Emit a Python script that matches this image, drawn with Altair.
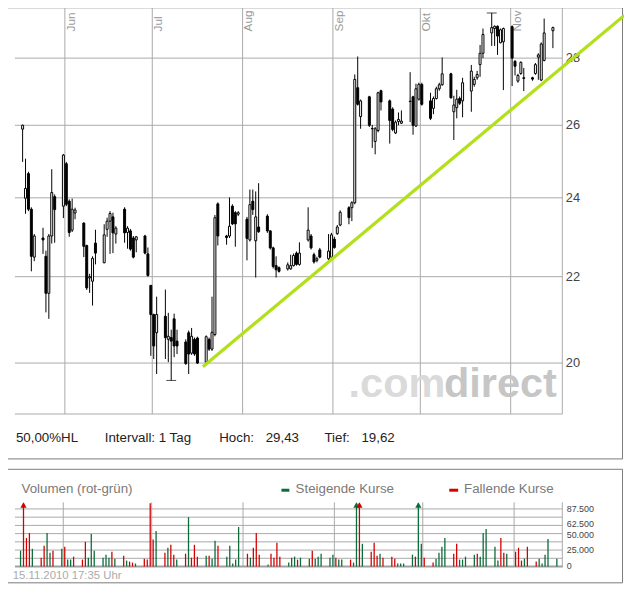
import altair as alt
import pandas as pd

# ---------------- data ----------------
trade_days = pd.bdate_range("2010-05-17", "2010-11-15")  # 131 sessions

opens = [25.89, 23.99, 24.65, 23.70, 22.48,
         22.96, 22.50, 21.60, 23.01, 24.03,
         23.78, 24.92, 23.91, 23.16, 23.60,
         23.34, 22.77, 21.97, 21.89, 22.83,
         22.34, 23.18, 23.39, 23.50, 23.06,
         23.70, 23.10, 23.14, 22.96, 22.91,
         23.01, 22.56, 21.79, 21.10, 20.68,
         21.06, 20.53, 20.57, 21.00, 20.49,
         20.47, 20.68, 20.22, 20.53, 20.56,
         20.02, 20.53, 20.31, 20.64, 23.84,
         23.01, 23.01, 23.78, 23.61, 23.57,
         23.44, 22.91, 23.91, 22.89, 23.24,
         23.52, 23.14, 22.71, 22.27, 22.22,
         22.19, 22.19, 22.27, 22.58, 22.30,
         22.91, 23.01, 22.54, 22.40, 22.66,
         22.44, 22.48, 22.93, 23.07, 23.29,
         23.74, 23.74, 23.87, 27.10, 26.25,
         26.83, 25.91, 25.54, 25.85, 27.01,
         26.71, 26.47, 25.78, 26.11, 26.06,
         26.69, 26.83, 25.98, 26.76, 27.20,
         26.71, 26.49, 26.78, 27.07, 27.19,
         27.52, 26.39, 26.51, 26.78, 26.71,
         27.00, 27.20, 27.40, 27.80, 28.15,
         28.79, 28.93, 29.00, 28.48, 28.51,
         28.99, 27.90, 27.30, 27.53, 27.40,
         27.40, 27.53, 28.03, 27.33, 27.93,
         28.86]

highs = [26.02, 25.06, 24.70, 23.75, 23.06,
         23.22, 22.64, 23.06, 24.77, 24.09,
         25.19, 24.97, 23.96, 23.98, 23.74,
         23.36, 22.79, 22.07, 22.50, 23.17,
         23.31, 23.48, 23.65, 23.61, 23.26,
         23.75, 23.26, 23.19, 23.01, 23.01,
         23.04, 22.72, 21.79, 21.12, 21.52,
         21.69, 21.14, 20.75, 21.12, 20.75,
         20.53, 20.73, 20.79, 20.57, 20.59,
         20.62, 20.57, 21.52, 23.55, 23.88,
         23.04, 24.01, 23.83, 23.65, 23.65,
         23.50, 24.22, 24.22, 24.17, 24.39,
         23.57, 23.16, 22.74, 22.50, 22.25,
         22.35, 22.54, 22.57, 22.62, 22.85,
         23.75, 23.06, 22.59, 22.49, 22.71,
         23.06, 23.09, 22.99, 23.29, 23.67,
         23.78, 23.91, 27.50, 28.05, 26.75,
         26.86, 26.01, 25.95, 26.98, 27.04,
         26.75, 26.52, 26.14, 26.37, 26.43,
         27.57, 26.86, 27.22, 27.25, 27.25,
         26.95, 26.84, 27.13, 27.25, 28.02,
         27.55, 26.86, 27.04, 26.84, 27.40,
         27.79, 27.43, 27.61, 28.41, 28.93,
         29.43, 29.03, 29.03, 28.93, 28.96,
         29.03, 27.94, 27.52, 27.90, 27.70,
         27.43, 27.85, 28.15, 28.49, 29.25,
         28.99]

lows = [24.97, 23.58, 23.65, 22.13, 22.38,
        22.56, 21.15, 21.00, 22.82, 22.84,
        23.47, 23.78, 22.99, 23.11, 23.44,
        22.48, 21.68, 21.61, 21.31, 22.30,
        22.33, 22.99, 22.56, 22.58, 22.82,
        22.84, 22.69, 22.64, 22.45, 22.60,
        22.55, 22.00, 20.16, 20.09, 19.76,
        20.09, 20.02, 19.62, 20.13, 20.20,
        19.96, 19.76, 20.18, 20.16, 19.98,
        20.00, 20.27, 20.27, 20.60, 22.77,
        22.79, 22.96, 23.29, 22.74, 23.52,
        22.40, 22.87, 23.55, 21.98, 23.09,
        23.09, 22.67, 22.20, 21.98, 22.10,
        22.15, 22.17, 22.25, 22.27, 22.27,
        22.87, 22.67, 22.32, 22.35, 22.45,
        22.40, 22.45, 22.69, 23.04, 23.26,
        23.31, 23.39, 23.83, 26.57, 25.90,
        25.95, 25.36, 25.18, 25.80, 26.43,
        25.48, 25.83, 25.75, 26.00, 26.04,
        26.09, 25.73, 25.95, 26.72, 26.57,
        26.15, 26.32, 26.75, 27.01, 27.16,
        26.78, 25.58, 26.20, 26.59, 26.23,
        26.39, 27.13, 27.34, 27.43, 28.00,
        28.38, 28.38, 28.10, 28.46, 27.03,
        27.15, 27.47, 27.25, 27.49, 27.00,
        27.31, 27.49, 27.34, 27.30, 27.90,
        28.31]

closes = [26.00, 24.25, 23.70, 22.50, 23.01,
          22.91, 21.60, 23.01, 24.14, 23.69,
          25.16, 23.83, 23.10, 23.70, 23.68,
          22.75, 21.73, 22.00, 22.45, 22.58,
          23.04, 23.39, 23.59, 23.09, 23.21,
          23.09, 23.21, 22.68, 22.48, 22.99,
          22.58, 22.03, 21.10, 20.38, 21.10,
          20.57, 20.60, 20.49, 20.38, 20.38,
          19.99, 20.20, 20.60, 20.20, 20.00,
          20.59, 20.31, 20.69, 23.48, 23.01,
          22.97, 23.26, 23.32, 23.32, 23.61,
          22.95, 23.82, 23.69, 23.50, 23.12,
          23.14, 22.71, 22.25, 22.17, 22.13,
          22.29, 22.27, 22.52, 22.30, 22.58,
          23.16, 22.71, 22.36, 22.44, 22.48,
          22.63, 23.04, 22.72, 23.24, 23.62,
          23.48, 23.87, 27.35, 26.61, 26.71,
          26.00, 25.90, 25.90, 26.95, 26.68,
          26.14, 25.88, 26.09, 26.17, 26.12,
          26.70, 26.00, 27.07, 27.20, 26.61,
          26.20, 26.78, 27.07, 27.19, 27.52,
          26.80, 26.59, 26.76, 26.64, 27.25,
          27.60, 27.35, 27.50, 28.15, 28.74,
          28.96, 29.00, 28.69, 28.89, 28.93,
          28.00, 27.75, 27.47, 27.87, 27.38,
          27.36, 27.80, 28.10, 28.44, 28.79,
          28.96]

volumes = [24000, 130000, 43500, 51000, 27000,
           13500, 31500, 51000, 21000, 24000,
           27000, 30000, 10500, 10500, 15000,
           10500, 37500, 13500, 49500, 24000,
           13500, 18000, 13500, 22500, 12000,
           16500, 9000, 7500, 6000, 4500,
           12000, 10500, 96000, 41000, 54000,
           21000, 28500, 33000, 18000, 10500,
           19500, 75000, 13500, 33000, 15000,
           16500, 16500, 12000, 39000, 31500,
           15000, 31500, 4500, 10500, 60000,
           19500, 13500, 28500, 51000, 18000,
           3000, 19500, 13500, 36000, 15000,
           6000, 13500, 15000, 10500, 13500,
           12000, 24000, 12000, 15000, 19500,
           13500, 18000, 13500, 10500, 10500,
           10500, 6000, 210000, 150000, 34500,
           22500, 36000, 16500, 19500, 13500,
           15000, 12000, 4500, 4500, 4500,
           18000, 15000, 115000, 34500, 13500,
           6000, 12000, 21000, 30000, 43500,
           19500, 34500, 10500, 10500, 15000,
           18000, 19500, 15000, 51000, 57000,
           30000, 9000, 43500, 21000, 19500,
           22500, 28500, 9000, 12000, 30000,
           7500, 12000, 4500, 18000, 42000,
           12000]

# S = steigende Kurse (green), F = fallende Kurse (red)
vol_dir = ["S", "F", "F", "F", "S",
           "F", "F", "S", "S", "F",
           "S", "F", "S", "S", "F",
           "F", "F", "S", "S", "S",
           "S", "S", "S", "F", "S",
           "F", "S", "F", "F", "S",
           "F", "F", "F", "F", "S",
           "F", "S", "F", "F", "S",
           "F", "S", "F", "F", "F",
           "S", "F", "S", "S", "F",
           "S", "S", "S", "S", "S",
           "F", "S", "F", "F", "F",
           "S", "F", "F", "F", "F",
           "S", "S", "S", "F", "S",
           "S", "F", "S", "S", "S",
           "S", "S", "F", "S", "S",
           "F", "S", "S", "F", "S",
           "F", "F", "F", "S", "F",
           "F", "F", "S", "S", "S",
           "S", "F", "S", "S", "F",
           "F", "S", "S", "S", "S",
           "F", "F", "S", "S", "S",
           "S", "F", "S", "S", "S",
           "S", "S", "F", "F", "S",
           "F", "F", "F", "S", "F",
           "F", "S", "S", "S", "S",
           "S"]

month_starts = ["2010-06-01T00:00:00Z", "2010-07-01T00:00:00Z", "2010-08-01T00:00:00Z",
                "2010-09-01T00:00:00Z", "2010-10-01T00:00:00Z", "2010-11-01T00:00:00Z"]
month_names = ["Jun", "Jul", "Aug", "Sep", "Okt", "Nov"]

price_ticks = [20, 22, 24, 26, 28]
price_tick_labels = ["20", "22", "24", "26", "28"]

vol_grid = [12500, 25000, 37500, 50000, 62500, 75000, 87500]
vol_ticks = [87500, 62500, 50000, 25000, 0]
vol_tick_labels = ["87.500", "62.500", "50.000", "25.000", "0"]
vol_tick_nudge = [0, -1.8, 1.6, 0, 0]   # the reference spreads the two crowded labels

extreme_dates = ["2010-10-25T12:00:00Z", "2010-07-07T12:00:00Z"]
extreme_values = [29.43, 19.62]

trend_dates = ["2010-07-18T09:00:00Z", "2010-12-10T00:00:00Z"]
trend_values = [19.92, 29.35]

# ---------------- build ----------------
W, H = 624, 582
FONT = "Liberation Sans"
GRID = "#a9a9a9"
BOX = "#7a7a7a"
GREEN = "#0b6b3a"
RED = "#d40000"

df = pd.DataFrame({
    "date": [d.strftime("%Y-%m-%dT12:00:00Z") for d in trade_days],
    "open": opens, "high": highs, "low": lows, "close": closes,
    "vol": volumes, "dir": vol_dir,
})
month_df = pd.DataFrame({"m": month_starts, "name": month_names})
ptick_df = pd.DataFrame({"p": price_ticks, "lab": price_tick_labels})
vgrid_df = pd.DataFrame({"v": vol_grid})
ext_df = pd.DataFrame({"date": extreme_dates, "price": extreme_values})
trend_df = pd.DataFrame({"date": trend_dates, "price": trend_values})
one = pd.DataFrame({"k": [0]})


def utc(y, m, d, h=0, mi=0):
    return alt.DateTime(year=y, month=m, date=d, hours=h, minutes=mi, utc=True)


X_PRICE = alt.Scale(type="utc", domain=[utc(2010, 5, 12, 11, 38), utc(2010, 12, 9, 21, 36)],
                    nice=False, padding=0)
Y_PRICE = alt.Scale(type="log", domain=[15.6336, 29.4709], nice=False, padding=0)
X_VOL = alt.Scale(type="utc", domain=[utc(2010, 5, 13, 5, 46), utc(2010, 12, 8, 6, 58)],
                  nice=False, padding=0)
Y_VOL = alt.Scale(type="linear", domain=[-30000, 843000], nice=False, zero=False, padding=0)


def xp(f):
    return alt.X(f, type="temporal", scale=X_PRICE, axis=None)


def yp(f):
    return alt.Y(f, type="quantitative", scale=Y_PRICE, axis=None)


def xv(f):
    return alt.X(f, type="temporal", scale=X_VOL, axis=None)


def yv(f):
    return alt.Y(f, type="quantitative", scale=Y_VOL, axis=None)


def label(text, x, y, size, color, align="left", baseline="alphabetic", weight="normal"):
    return alt.Chart(one).mark_text(
        text=text, align=align, baseline=baseline, fontSize=size, color=color,
        font=FONT, fontWeight=weight
    ).encode(x=alt.value(x), y=alt.value(y))


def hline(x1, x2, y, color, width=1):
    return alt.Chart(one).mark_rule(color=color, strokeWidth=width).encode(
        x=alt.value(x1), x2=alt.value(x2), y=alt.value(y))


def vline(x, y1, y2, color, width=1):
    return alt.Chart(one).mark_rule(color=color, strokeWidth=width).encode(
        x=alt.value(x), y=alt.value(y1), y2=alt.value(y2))


layers = []

# panel boxes
layers.append(alt.Chart(one).mark_rect(fill="white", stroke=BOX, strokeWidth=1).encode(
    x=alt.value(-4), x2=alt.value(622.5), y=alt.value(-4), y2=alt.value(453)))
layers.append(alt.Chart(one).mark_rect(fill="white", stroke=BOX, strokeWidth=1).encode(
    x=alt.value(-4), x2=alt.value(622.5), y=alt.value(463.5), y2=alt.value(578.5)))

# price grid
layers.append(alt.Chart(ptick_df).mark_rule(color=GRID, strokeWidth=1).encode(
    y=yp("p"), x=alt.value(7), x2=alt.value(561.5)))
layers.append(alt.Chart(month_df).mark_rule(color=GRID, strokeWidth=1).encode(
    x=xp("m"), y=alt.value(-8), y2=alt.value(407.5)))
layers.append(hline(7, 561.5, 407.5, GRID))
layers.append(vline(561.5, -8, 407.5, GRID))

# watermark
layers.append(label(".com", 345, 390, 42, "#dadada", weight="bold"))
layers.append(label("direct", 556, 390, 42, "#c6c6c6", align="right", weight="bold"))

# month labels (rotated)
layers.append(alt.Chart(month_df).mark_text(
    angle=270, align="left", baseline="top", fontSize=12, color="#9a9a9a", font=FONT, dy=1
).encode(x=xp("m"), y=alt.value(20), text="name:N"))

# price labels
layers.append(alt.Chart(ptick_df).mark_text(
    align="left", baseline="middle", fontSize=13, color="#444444", font=FONT
).encode(x=alt.value(565), y=yp("p"), text="lab:N"))

# candles
base = alt.Chart(df)
layers.append(base.mark_rule(color="#000000", strokeWidth=1).encode(
    x=xp("date"), y=yp("low"), y2="high:Q"))
layers.append(base.mark_bar(size=2, stroke="#000000", strokeWidth=1).encode(
    x=xp("date"), y=yp("open"), y2="close:Q",
    fill=alt.condition("datum.close >= datum.open", alt.value("#ffffff"), alt.value("#000000"))))
layers.append(alt.Chart(ext_df).mark_tick(orient="horizontal", size=10, thickness=1,
                                          color="#000000").encode(x=xp("date"), y=yp("price")))

# trend line
layers.append(alt.Chart(trend_df).mark_line(color="#b3e01c", strokeWidth=3.3).encode(
    x=xp("date"), y=yp("price")))

# info row
layers.append(label("50,00%HL", 8, 436, 13.5, "#222222"))
layers.append(label("Intervall: 1 Tag", 98, 436, 13.5, "#222222"))
layers.append(label("Hoch:", 214, 436, 13.5, "#222222"))
layers.append(label("29,43", 261, 436, 13.5, "#222222"))
layers.append(label("Tief:", 320.5, 436, 13.5, "#222222"))
layers.append(label("19,62", 358, 436, 13.5, "#222222"))

# volume grid
layers.append(alt.Chart(vgrid_df).mark_rule(color=GRID, strokeWidth=1).encode(
    y=yv("v"), x=alt.value(7), x2=alt.value(561.5)))
layers.append(alt.Chart(month_df).mark_rule(color=GRID, strokeWidth=1).encode(
    x=xv("m"), y=alt.value(497), y2=alt.value(562)))
layers.append(vline(561.5, 497, 562, GRID))
layers.append(hline(7, 562, 562, "#a0a0a0", 2))

# volume bars
vbase = alt.Chart(df).transform_calculate(vc="min(datum.vol, 96000)", v0="0", ay="93500")
vcolor = alt.Color("dir:N", scale=alt.Scale(domain=["S", "F"], range=[GREEN, RED]), legend=None)
layers.append(vbase.mark_rule(strokeWidth=1.3).encode(
    x=xv("date"), y=yv("vc"), y2="v0:Q", color=vcolor))
layers.append(vbase.transform_filter("datum.vol > 96000").mark_point(
    shape="triangle-up", filled=True, size=40, opacity=1
).encode(x=xv("date"), y=yv("ay"), color=vcolor))

# volume labels
for v, lab, nudge in zip(vol_ticks, vol_tick_labels, vol_tick_nudge):
    layers.append(alt.Chart(pd.DataFrame({"v": [v], "lab": [lab]})).mark_text(
        align="left", baseline="middle", fontSize=9, color="#444444", font=FONT, dy=nudge
    ).encode(x=alt.value(566), y=yv("v"), text="lab:N"))

# volume header / legend
layers.append(label("Volumen (rot-grün)", 13.7, 488, 13.5, "#7a7a7a"))
layers.append(hline(277, 285, 484.7, GREEN, 3))
layers.append(label("Steigende Kurse", 291.3, 488, 13.5, "#7a7a7a"))
layers.append(hline(447, 456, 484.7, RED, 3))
layers.append(label("Fallende Kurse", 462, 488, 13.5, "#7a7a7a"))
layers.append(label("15.11.2010 17:35 Uhr", 4.7, 574.7, 11.5, "#aaaaaa"))

chart = alt.layer(*layers).resolve_scale(
    x="independent", y="independent"
).properties(
    width=W, height=H, autosize=alt.AutoSizeParams(type="none"), padding=0
).configure_view(stroke=None)

chart.save("out.html", embed_options={"renderer": "svg", "actions": False})
